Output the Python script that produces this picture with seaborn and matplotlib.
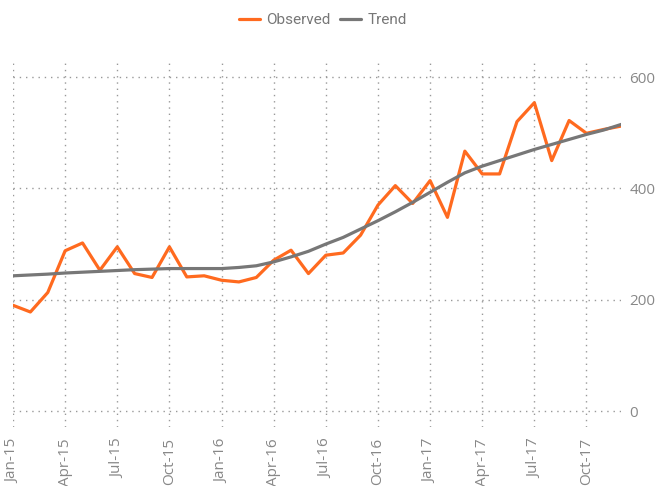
import pandas as pd
import matplotlib.pyplot as plt
import seaborn as sns

# Monthly series, Jan-15 .. Dec-17
months = ["Jan-15", "Feb-15", "Mar-15", "Apr-15", "May-15", "Jun-15",
          "Jul-15", "Aug-15", "Sep-15", "Oct-15", "Nov-15", "Dec-15",
          "Jan-16", "Feb-16", "Mar-16", "Apr-16", "May-16", "Jun-16",
          "Jul-16", "Aug-16", "Sep-16", "Oct-16", "Nov-16", "Dec-16",
          "Jan-17", "Feb-17", "Mar-17", "Apr-17", "May-17", "Jun-17",
          "Jul-17", "Aug-17", "Sep-17", "Oct-17", "Nov-17", "Dec-17"]

observed = [190, 178, 213, 288, 302, 253, 295, 247, 240, 295, 241, 243,
            235, 232, 240, 271, 289, 247, 280, 284, 316, 370, 405, 373,
            414, 348, 467, 426, 426, 520, 554, 450, 522, 499, 506, 512]

trend = [243, 244.5, 246, 248, 249.5, 251, 252.5, 254, 255, 256, 256, 256,
         256, 258, 261, 268, 277, 287, 300, 312, 327, 342, 358, 375,
         393, 411, 428, 440, 450, 460, 470, 479, 488, 497, 505, 515]

y_ticks = [0, 200, 400, 600]

df = pd.DataFrame({"idx": range(len(months)), "month": months,
                   "Observed": observed, "Trend": trend})

sns.set_style("white")
plt.rcParams['font.family'] = ['Open Sans', 'DejaVu Sans']

fig = plt.figure(figsize=(6.64, 4.86), dpi=100)
ax = fig.add_axes([0.0196, 0.121, 0.916, 0.749])

sns.lineplot(data=df, x="idx", y="Observed", color="#FF6A1F", linewidth=2.3,
             label="Observed", ax=ax)
sns.lineplot(data=df, x="idx", y="Trend", color="#777777", linewidth=2.3,
             label="Trend", ax=ax)

ax.set_xlim(0, len(months) - 1)
ax.set_ylim(-29, 625)
ax.set_xticks(df["idx"][::3])
ax.set_xticklabels(df["month"][::3], rotation=90)
ax.set_yticks(y_ticks)
ax.yaxis.tick_right()
ax.tick_params(axis="both", length=0, labelsize=11, colors="#888888")
ax.tick_params(axis="y", pad=6)
ax.tick_params(axis="x", pad=8)
ax.set_xlabel("")
ax.set_ylabel("")
ax.grid(True, linestyle=(0, (1, 3.5)), color="#999999", linewidth=1)
for s in ax.spines.values():
    s.set_visible(False)

ax.get_legend().remove()
handles, labels = ax.get_legend_handles_labels()
fig.legend(handles, labels, loc="center", bbox_to_anchor=(0.486, 0.958), ncol=2,
           frameon=False, handlelength=1.4, handletextpad=0.4, columnspacing=0.6,
           prop={"family": "Roboto", "size": 11}, labelcolor="#777777")

plt.savefig("out.png", dpi=100)
